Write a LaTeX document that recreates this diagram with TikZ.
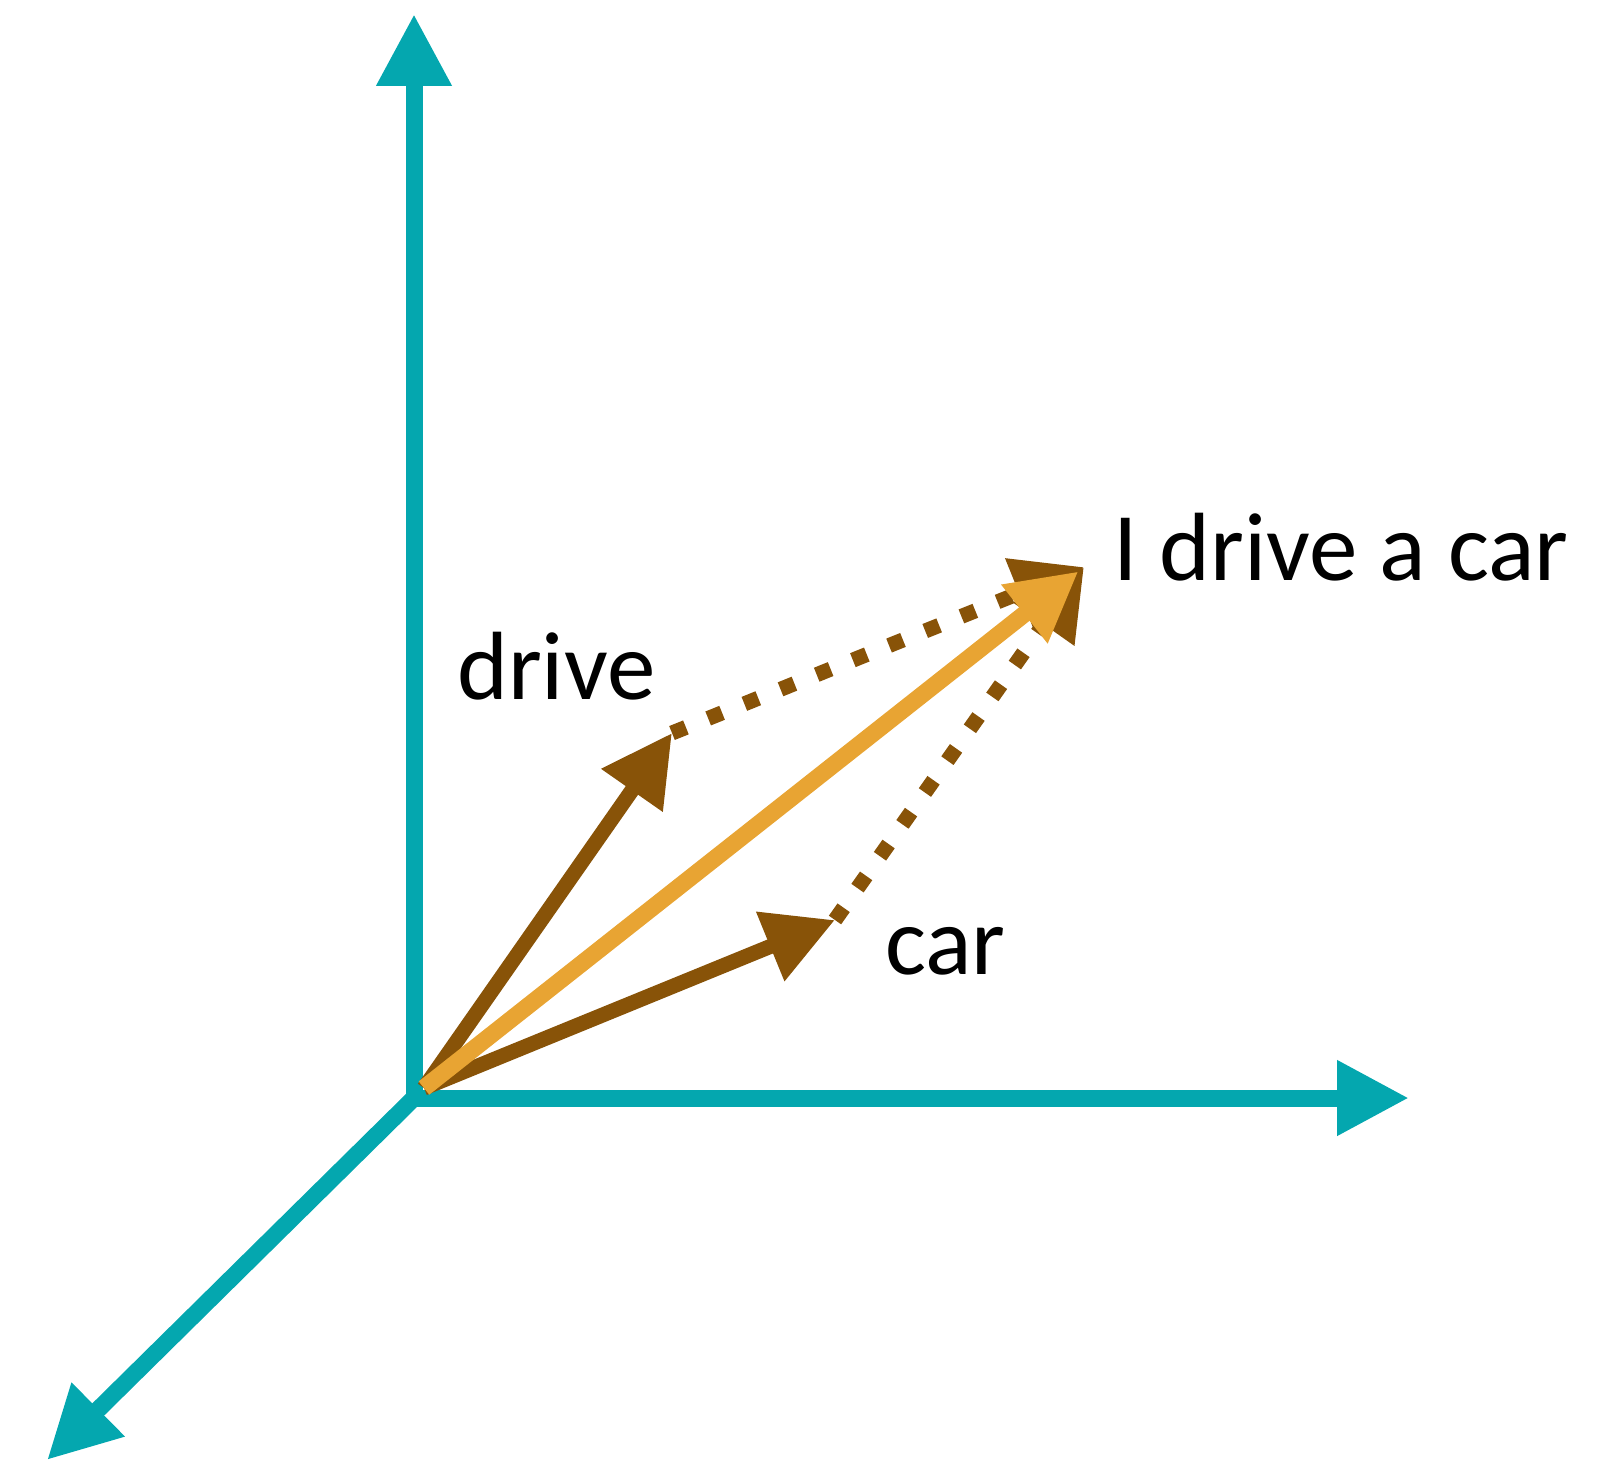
\documentclass[tikz,border=0pt]{standalone}
\usepackage{fontspec}
\setmainfont{Carlito}
\usetikzlibrary{arrows.meta}
\definecolor{axiscol}{HTML}{04A7AF}
\definecolor{wordvec}{HTML}{885308}
\definecolor{sentvec}{HTML}{E8A433}

\begin{document}
\begin{tikzpicture}[x=1pt,y=-1pt,font=\fontsize{97}{110}\selectfont,
axis/.style={line width=17pt,axiscol,line join=miter,>={Triangle[length=72pt,width=71pt]}},
w/.style={line width=15pt,wordvec,-{Triangle[length=70pt,width=71pt]}},
d/.style={w,dash pattern=on 15pt off 24pt},
s/.style={line width=17pt,sentvec,-{Triangle[length=69pt,width=70pt]},shorten >=7pt},
lbl/.style={anchor=base west,inner sep=0pt}]
\useasboundingbox (0,0) rectangle (1619,1461);
% axes
\coordinate (O) at (414,1098);
\coordinate (ytip) at (414,14);
\coordinate (xtip) at (1409,1098);
\coordinate (ztip) at (47,1460);
\draw[axis,<->] (ytip) -- (O) -- (xtip);
\draw[axis,->] (O) -- (ztip);
% word vectors and their sum
\coordinate (v0) at (424,1088);
\coordinate (drive) at (672,733);
\coordinate (car) at (835,920);
\coordinate (sum) at (1084,567);
\draw[w] (v0) -- (drive);
\draw[w] (v0) -- (car);
\draw[d] (drive) -- (sum);
\draw[d] (car) -- (sum);
\draw[s] (v0) -- (sum);
\node[lbl] (ldrive) at (457,699) {drive};
\node[lbl] (lcar) at (885,974) {car};
\node[lbl] (lsum) at (1113,580) {I drive a car};
\end{tikzpicture}
\end{document}
